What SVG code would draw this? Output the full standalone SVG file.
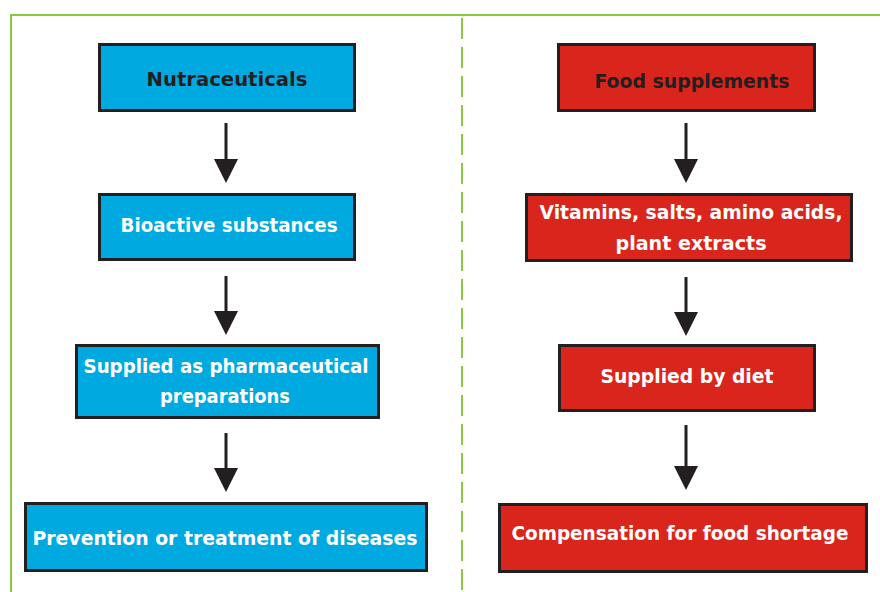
<svg xmlns="http://www.w3.org/2000/svg" width="880" height="592" viewBox="0 0 880 592">
<style>
.frame{fill:none;stroke:#8dc63f;stroke-width:2}
.div{stroke:#8dc63f;stroke-width:2;stroke-dasharray:21 8}
.blue{fill:#00a9e0;stroke:#231f20;stroke-width:3}
.red{fill:#d9251c;stroke:#231f20;stroke-width:3}
text{font-family:"DejaVu Sans","Liberation Sans",sans-serif;font-weight:bold;font-size:19px;text-anchor:middle}
.k{fill:#231f20;font-size:20px}
.w{fill:#ffffff}
.conn line{stroke:#231f20;stroke-width:3}
</style>
<defs>
<marker id="ah" markerWidth="8" markerHeight="8" refX="0" refY="4" orient="auto" markerUnits="strokeWidth" viewBox="0 0 8 8">
<path d="M0,0 L8,4 L0,8 Z" fill="#231f20"/>
</marker>
</defs>
<rect x="0" y="0" width="880" height="592" fill="#ffffff"/>
<path class="frame" d="M11,600 L11,15 L890,15"/>
<line class="div" x1="462" y1="18" x2="462" y2="592"/>

<g id="conns" class="conn">
<line x1="226" y1="123" x2="226" y2="159" marker-end="url(#ah)"/>
<line x1="226" y1="276" x2="226" y2="311" marker-end="url(#ah)"/>
<line x1="226" y1="433" x2="226" y2="468" marker-end="url(#ah)"/>
<line x1="686" y1="123" x2="686" y2="159" marker-end="url(#ah)"/>
<line x1="686" y1="277" x2="686" y2="312" marker-end="url(#ah)"/>
<line x1="686" y1="425" x2="686" y2="466" marker-end="url(#ah)"/>
</g>

<g id="nutraceuticals">
<rect class="blue" x="99.5" y="44.5" width="255" height="66"/>
<text class="k" x="227" y="86" textLength="161" lengthAdjust="spacingAndGlyphs">Nutraceuticals</text>
</g>
<g id="bioactive">
<rect class="blue" x="99.5" y="194.5" width="255" height="65"/>
<text class="w" x="229" y="232" textLength="217" lengthAdjust="spacingAndGlyphs">Bioactive substances</text>
</g>
<g id="pharma">
<rect class="blue" x="76.5" y="345.5" width="302" height="72"/>
<text class="w" x="226" y="373" textLength="285" lengthAdjust="spacingAndGlyphs">Supplied as pharmaceutical</text>
<text class="w" x="225" y="403" textLength="130" lengthAdjust="spacingAndGlyphs">preparations</text>
</g>
<g id="prevention">
<rect class="blue" x="25.5" y="503.5" width="401" height="67"/>
<text class="w" x="225" y="545" textLength="385" lengthAdjust="spacingAndGlyphs">Prevention or treatment of diseases</text>
</g>

<g id="food">
<rect class="red" x="558.5" y="44.5" width="256" height="66"/>
<text class="k" x="692" y="88" textLength="195" lengthAdjust="spacingAndGlyphs">Food supplements</text>
</g>
<g id="vitamins">
<rect class="red" x="526.5" y="194.5" width="325" height="66"/>
<text class="w" x="691" y="219" textLength="303" lengthAdjust="spacingAndGlyphs">Vitamins, salts, amino acids,</text>
<text class="w" x="691" y="250" textLength="151" lengthAdjust="spacingAndGlyphs">plant extracts</text>
</g>
<g id="diet">
<rect class="red" x="559.5" y="345.5" width="255" height="65"/>
<text class="w" x="687" y="383" textLength="173" lengthAdjust="spacingAndGlyphs">Supplied by diet</text>
</g>
<g id="compensation">
<rect class="red" x="499.5" y="504.5" width="367" height="67"/>
<text class="w" x="680" y="540" textLength="337" lengthAdjust="spacingAndGlyphs">Compensation for food shortage</text>
</g>
</svg>
